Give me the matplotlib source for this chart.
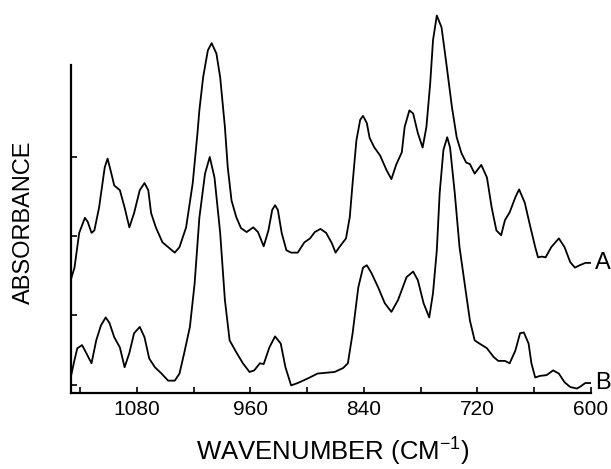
import numpy as np
import matplotlib
matplotlib.use("Agg")
import matplotlib.pyplot as plt

plt.rcParams['font.family'] = ['Liberation Sans', 'DejaVu Sans']
plt.rcParams['mathtext.default'] = 'regular'

# spectrum A (upper trace), wavenumber in cm-1, absorbance in arbitrary units
wn_a = [1150, 1146, 1141, 1135, 1132, 1128, 1125, 1120, 1114, 1111, 1107, 1104, 1098,
        1093, 1088, 1083, 1077, 1072, 1068, 1065, 1060, 1053, 1046, 1040, 1035, 1028,
        1021, 1016, 1014, 1010, 1005, 1001, 996, 992, 987, 984, 980, 975, 970, 964,
        957, 952, 946, 941, 937, 934, 931, 927, 922, 917, 910, 903, 897, 892, 886,
        880, 874, 870, 866, 859, 855, 852, 848, 844, 841, 837, 834, 829, 823, 816,
        811, 806, 800, 797, 792, 788, 783, 778, 774, 770, 767, 763, 758, 753, 747,
        742, 737, 732, 728, 723, 716, 710, 705, 700, 695, 691, 686, 680, 676, 670,
        665, 659, 656, 652, 648, 642, 634, 628, 622, 617, 612, 606, 601]
abs_a = [1.43, 1.59, 2.03, 2.22, 2.17, 2.03, 2.06, 2.35, 2.86, 2.97, 2.78, 2.63, 2.57,
         2.35, 2.10, 2.28, 2.57, 2.66, 2.57, 2.28, 2.10, 1.91, 1.84, 1.78, 1.85, 2.10,
         2.66, 3.29, 3.58, 4.00, 4.34, 4.43, 4.30, 4.00, 3.37, 2.86, 2.44, 2.23, 2.09, 2.04,
         2.10, 2.04, 1.86, 2.06, 2.32, 2.38, 2.32, 2.03, 1.81, 1.78, 1.78, 1.91, 1.96, 2.04, 2.08,
         2.03, 1.90, 1.78, 1.85, 1.96, 2.23, 2.66, 3.20, 3.46, 3.51, 3.42, 3.23, 3.11, 3.01, 2.82,
         2.71, 2.89, 3.05, 3.37, 3.58, 3.54, 3.29, 3.11, 3.37, 3.92, 4.47, 4.78, 4.63, 4.18, 3.62,
         3.24, 3.04, 2.92, 2.90, 2.78, 2.89, 2.73, 2.35, 2.06, 2.00, 2.19, 2.29, 2.48, 2.58, 2.41,
         2.15, 1.85, 1.72, 1.73, 1.72, 1.85, 1.96, 1.85, 1.66, 1.59, 1.62, 1.65, 1.65]

# spectrum B (lower trace)
wn_b = [1150, 1146, 1143, 1138, 1134, 1128, 1123, 1118, 1113, 1109, 1104, 1098, 1093,
        1088, 1083, 1077, 1072, 1067, 1061, 1054, 1047, 1040, 1035, 1030, 1024, 1019,
        1014, 1008, 1003, 998, 992, 987, 982, 975, 968, 961, 956, 950, 946, 940, 934,
        928, 923, 917, 910, 899, 889, 871, 862, 857, 852, 846, 841, 837, 832, 825, 818,
        811, 804, 795, 788, 783, 777, 771, 767, 763, 760, 756, 752, 749, 744, 739, 733,
        728, 723, 718, 710, 703, 698, 691, 686, 680, 675, 671, 666, 663, 659, 654, 647,
        640, 634, 628, 622, 615, 612, 606, 601]
abs_b = [0.20, 0.42, 0.57, 0.61, 0.52, 0.38, 0.67, 0.86, 0.96, 0.89, 0.71, 0.58, 0.33,
         0.51, 0.76, 0.84, 0.71, 0.44, 0.33, 0.25, 0.16, 0.16, 0.25, 0.51, 0.84, 1.39,
         2.22, 2.78, 2.99, 2.73, 2.03, 1.18, 0.67, 0.52, 0.38, 0.27, 0.29, 0.38, 0.37, 0.58, 0.72,
         0.63, 0.33, 0.10, 0.13, 0.19, 0.25, 0.27, 0.32, 0.38, 0.76, 1.34, 1.59, 1.62, 1.52, 1.34, 1.14,
         1.03, 1.18, 1.47, 1.54, 1.43, 1.14, 0.96, 1.27, 1.81, 2.53, 3.08, 3.24, 3.11, 2.53, 1.85, 1.34,
         0.92, 0.67, 0.63, 0.57, 0.46, 0.41, 0.41, 0.38, 0.54, 0.76, 0.77, 0.63, 0.38, 0.20, 0.22, 0.23,
         0.29, 0.25, 0.14, 0.08, 0.06, 0.08, 0.13, 0.13]

major_ticks = [1080, 960, 840, 720, 600]
minor_ticks = [1140, 1020, 900, 780, 660]
y_ticks = [0.11, 0.99, 1.99, 2.99]

fig = plt.figure(figsize=(6.11, 4.69), dpi=100)
ax = fig.add_axes([0.1157, 0.1614, 0.8516, 0.8173])

ax.plot(wn_a, abs_a, color='black', lw=1.3, solid_joinstyle='round')
ax.plot(wn_b, abs_b, color='black', lw=1.3, solid_joinstyle='round')

ax.set_xlim(1150, 600)
ax.set_ylim(0, 4.85)

ax.spines['top'].set_visible(False)
ax.spines['right'].set_visible(False)
ax.spines['left'].set_bounds(0, 4.15)
ax.spines['left'].set_linewidth(1.6)
ax.spines['bottom'].set_linewidth(1.6)

ax.set_xticks(major_ticks)
ax.set_xticks(minor_ticks, minor=True)
ax.set_yticks(y_ticks)
ax.set_yticklabels([])
ax.tick_params(axis='both', which='both', direction='in', length=4, width=1.2,
               color='black', labelsize=15, pad=5)

# axis titles placed in figure coords to match the original layout
fig.text(333 / 611, 1 - 461 / 469, "WAVENUMBER (CM$^{-1}$)", fontsize=18.5,
         ha='center', va='baseline')
fig.text(23.5 / 611, 1 - 222.5 / 469, "ABSORBANCE", fontsize=17, rotation=90,
         ha='center', va='center')

ax.text(596, 1.65, "A", fontsize=17, ha='left', va='center', clip_on=False)
ax.text(596, 0.13, "B", fontsize=17, ha='left', va='center', clip_on=False)

plt.savefig("out.png", dpi=100)
